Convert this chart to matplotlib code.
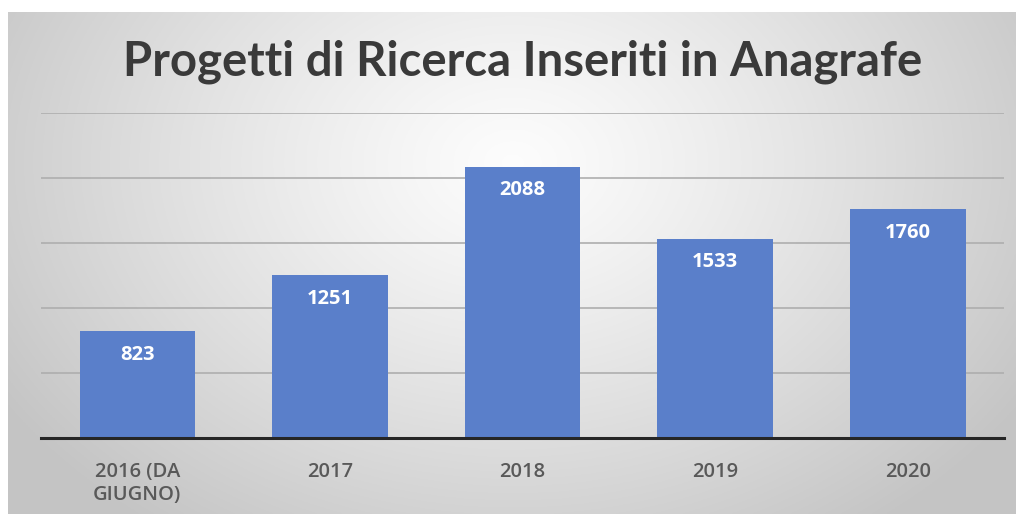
import numpy as np
import matplotlib
matplotlib.use("Agg")
import matplotlib.pyplot as plt

# dati del grafico
anni = ["2016 (DA\nGIUGNO)", "2017", "2018", "2019", "2020"]
progetti = [823, 1251, 2088, 1533, 1760]

fig = plt.figure(figsize=(10.16, 5.14), dpi=100)
fig.patch.set_facecolor("white")

# --- sfondo con gradiente radiale ---
bg = fig.add_axes([0.008, 0.0, 0.992, 0.977])
h, w = 300, 600
yy, xx = np.mgrid[0:h, 0:w]
cx, cy = w * 0.5, h * 0.3
d = np.sqrt(((xx - cx) / (w * 0.6)) ** 2 + ((yy - cy) / (h * 0.9)) ** 2)
d = np.clip(d, 0, 1)
val = 0.99 - 0.22 * d ** 1.2
img = np.dstack([val, val, val])
bg.imshow(img, aspect="auto", extent=[0, 1, 0, 1], origin="upper")
bg.axis("off")

# --- grafico a barre ---
ax = fig.add_axes([0.0404, 0.148, 0.948, 0.632])
ax.patch.set_alpha(0)
x = np.arange(len(anni))
barre = ax.bar(x, progetti, width=0.6, color="#5a7fca", zorder=3)

for b, v in zip(barre, progetti):
    ax.text(b.get_x() + b.get_width() / 2, v - 105, str(v),
            ha="center", va="top", color="white", fontsize=14.5,
            fontweight="bold", family="Open Sans", zorder=4)

ax.set_xlim(-0.5, len(anni) - 0.5)
ax.set_ylim(0, 2500)
ax.set_yticks(np.arange(500, 2501, 500))
ax.yaxis.grid(True, color="#aeaeae", linewidth=1.2, zorder=0)
ax.tick_params(axis="y", left=False, labelleft=False)
ax.tick_params(axis="x", length=0, pad=17)
ax.set_xticks(x)
ax.set_xticklabels(anni, fontsize=14.5, color="#595959",
                   family="Open Sans", fontweight="semibold",
                   linespacing=1.25, va="top")
for s in ["top", "right", "left"]:
    ax.spines[s].set_visible(False)
ax.spines["bottom"].set_color("#262626")
ax.spines["bottom"].set_linewidth(2.2)
ax.spines["bottom"].set_zorder(5)

fig.text(0.514, 0.880, "Progetti di Ricerca Inseriti in Anagrafe",
         ha="center", va="center", fontsize=34, fontweight="bold",
         color="#3a3a3a", family="Lato")

fig.savefig("out.png", dpi=100)
